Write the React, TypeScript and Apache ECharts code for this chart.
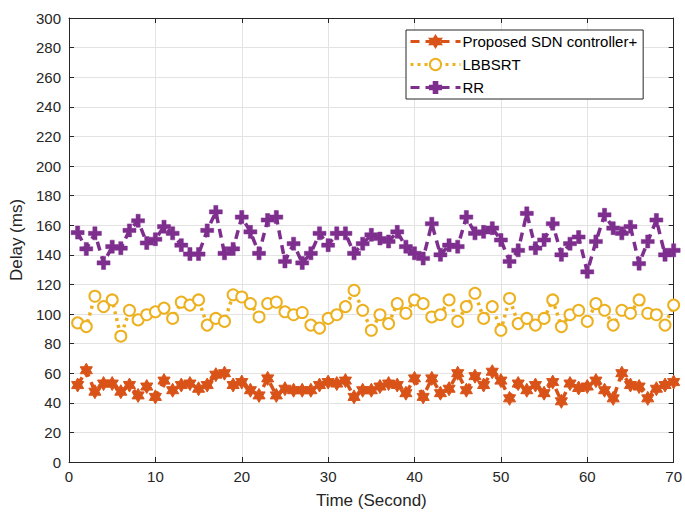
import React, { useEffect, useRef } from "react";
import * as echarts from "echarts";

const timeSec = [1,2,3,4,5,6,7,8,9,10,11,12,13,14,15,16,17,18,19,20,21,22,23,24,25,26,27,28,29,30,31,32,33,34,35,36,37,38,39,40,41,42,43,44,45,46,47,48,49,50,51,52,53,54,55,56,57,58,59,60,61,62,63,64,65,66,67,68,69,70];

const proposed = [52,62,47.5,53,53,47.5,52,45,51,44,55,48.5,52,53,49.5,52,59,60,52,54,48.5,45,56.5,45,49.5,48.5,48.5,48.5,52,54,53,55,44,48.5,48.5,51,53,52,46.5,56.5,44,56.5,46.5,49.5,60,48.5,58,52,61,55,43,53,48.5,52,46.5,54,41,53,50,51,55,48.5,43,60,52,51,43,49.5,52,54];

const lbbsrt = [94,91.5,112,105,109.5,85,102.5,96,99.5,101.5,104,97,108,106,109.5,92.5,97,95,113,111.5,107,98,107,108,101.5,99.5,101,92.5,90.5,97,99.5,105,116,102.5,89,99.5,93.5,107,100.5,109.5,107,98,99.5,109.5,95,105,114,97,105,89,110.5,93.5,97,92.5,97,109.5,91.5,99.5,102.5,95,107,102.5,92.5,102.5,100.5,109.5,100.5,99.5,92.5,106];

const rr = [155,144,154.5,134.5,145.5,144.5,156.5,163,148,150.5,159,154.5,146.5,140.5,140.5,156.5,169,141,144,165.5,155.5,141,163.5,165.5,135.5,147.5,134.5,141,154.5,146.5,154.5,154.5,141,147.5,153.5,151,149,155.5,145.5,141,137.5,161,140,146.5,145.5,165.5,154.5,155.5,158,150,135.5,143,168,144.5,150,161,140,147.5,152,128.5,149,167,158,154.5,159,134,149,163.5,140,143];

const seriesNames = ["Proposed SDN controller+", "LBBSRT", "RR"];
const xTicks = { min: 0, max: 70, interval: 10 };
const yTicks = { min: 0, max: 300, interval: 20 };

const HEXAGRAM =
  "path://M10,0 L12.885,5 L18.66,5 L15.77,10 L18.66,15 L12.885,15 L10,20 L7.115,15 L1.34,15 L4.23,10 L1.34,5 L7.115,5 Z";
const PLUS =
  "path://M3.4,0 H6.6 V3.4 H10 V6.6 H6.6 V10 H3.4 V6.6 H0 V3.4 H3.4 Z";

const FONT = "'Liberation Sans', Arial, sans-serif";
const TXT = "#262626";

function pairs(vals: number[]) {
  return vals.map((v, i) => [timeSec[i], v]);
}

export default function App() {
  const ref = useRef<HTMLDivElement>(null);
  useEffect(() => {
    if (!ref.current) return;
    const chart = echarts.init(ref.current, undefined, { renderer: "svg" });
    const axisCommon = {
      axisLine: { show: true, onZero: false, lineStyle: { color: TXT, width: 1 } },
      axisTick: { show: true, inside: true, length: 5, lineStyle: { color: TXT } },
    };
    chart.setOption({
      animation: false,
      backgroundColor: "#ffffff",
      textStyle: { fontFamily: FONT },
      grid: { left: 69, right: 10, top: 18, bottom: 54, containLabel: false },
      legend: {
        orient: "vertical",
        left: 406,
        top: 30,
        data: seriesNames,
        itemWidth: 50,
        itemHeight: 14,
        itemGap: 8,
        padding: [4, 6, 4, 3],
        backgroundColor: "#ffffff",
        borderColor: TXT,
        borderWidth: 1,
        borderRadius: 0,
        lineStyle: { width: 3 },
        textStyle: { fontFamily: FONT, fontSize: 15, color: "#000", padding: [0, 0, 0, -3] },
      },
      xAxis: [
        {
          type: "value",
          ...xTicks,
          name: "Time (Second)",
          nameLocation: "middle",
          nameGap: 30,
          nameTextStyle: { fontFamily: FONT, fontSize: 17, color: TXT },
          ...axisCommon,
          axisLabel: { fontFamily: FONT, fontSize: 15, color: TXT, margin: 7 },
          splitLine: { show: true, lineStyle: { color: "#e3e3e3", width: 1 } },
        },
        {
          type: "value",
          position: "top",
          ...xTicks,
          ...axisCommon,
          axisLabel: { show: false },
          splitLine: { show: false },
        },
      ],
      yAxis: [
        {
          type: "value",
          ...yTicks,
          name: "Delay (ms)",
          nameLocation: "middle",
          nameGap: 40,
          nameTextStyle: { fontFamily: FONT, fontSize: 17, color: TXT },
          ...axisCommon,
          axisLabel: { fontFamily: FONT, fontSize: 15, color: TXT, margin: 8 },
          splitLine: { show: true, lineStyle: { color: "#e3e3e3", width: 1 } },
        },
        {
          type: "value",
          position: "right",
          ...yTicks,
          ...axisCommon,
          axisLabel: { show: false },
          splitLine: { show: false },
        },
      ],
      series: [
        {
          name: seriesNames[0],
          type: "line",
          data: pairs(proposed),
          symbol: HEXAGRAM,
          symbolKeepAspect: true,
          symbolSize: 14,
          lineStyle: { color: "#D95319", width: 3.5, type: [9, 6] },
          itemStyle: { color: "#D95319", borderColor: "#D95319", borderWidth: 1 },
        },
        {
          name: seriesNames[1],
          type: "line",
          data: pairs(lbbsrt),
          symbol: "emptyCircle",
          symbolSize: 11,
          lineStyle: { color: "#EDB120", width: 3.5, type: [3, 4] },
          itemStyle: { color: "#EDB120", borderColor: "#EDB120", borderWidth: 3.5 },
        },
        {
          name: seriesNames[2],
          type: "line",
          data: pairs(rr),
          symbol: PLUS,
          symbolSize: 13,
          lineStyle: { color: "#7E2F8E", width: 3.5, type: [9, 6] },
          itemStyle: { color: "#7E2F8E", borderColor: "#7E2F8E", borderWidth: 0.5 },
        },
      ],
    });
    return () => chart.dispose();
  }, []);
  return (
    <div
      ref={ref}
      style={{ position: "fixed", left: 0, top: 0, width: 685, height: 516, background: "#fff" }}
    />
  );
}
